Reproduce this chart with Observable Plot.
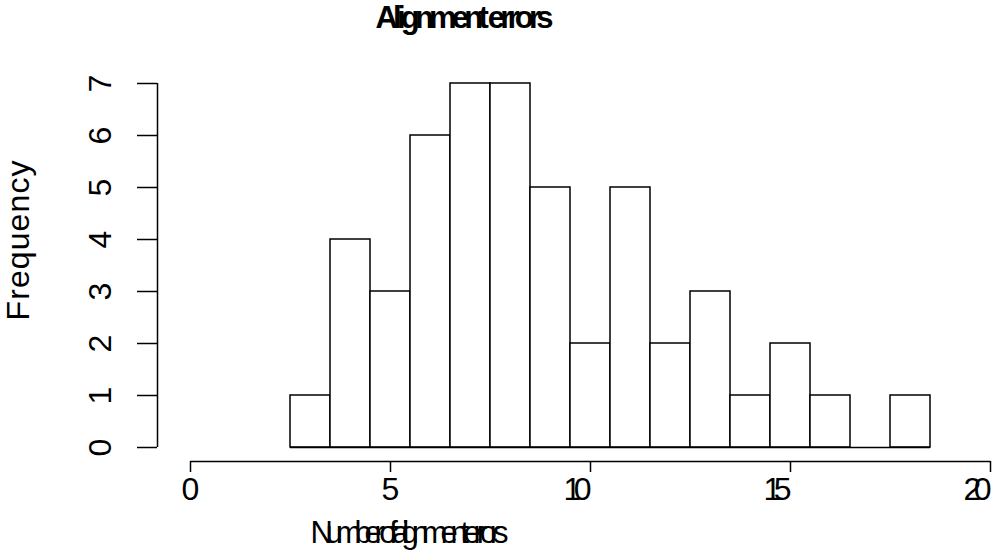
<!DOCTYPE html>
<html>
<head>
<meta charset="utf-8">
<script src="https://cdn.jsdelivr.net/npm/d3@7"></script>
<script src="https://cdn.jsdelivr.net/npm/@observablehq/plot@0.6"></script>
<style>
  html, body { margin: 0; padding: 0; background: #fff; }
</style>
</head>
<body>
<div id="chart"></div>
<script>
// ---- data ----
const breaks = [2.5, 3.5, 4.5, 5.5, 6.5, 7.5, 8.5, 9.5, 10.5, 11.5, 12.5, 13.5, 14.5, 15.5, 16.5, 17.5, 18.5];
const counts = [1, 4, 3, 6, 7, 7, 5, 2, 5, 2, 3, 1, 2, 1, 0, 1];
const xTicks = [0, 5, 10, 15, 20];
const xTickLabels = ["0", "5", "10", "15", "20"];
const yTicks = [0, 1, 2, 3, 4, 5, 6, 7];
const yTickLabels = ["0", "1", "2", "3", "4", "5", "6", "7"];
const titleText = "Alignment errors";
const xLabelText = "Number of alignment errors";
const yLabelText = "Frequency";

const bins = counts.map((c, i) => ({x1: breaks[i], x2: breaks[i + 1], count: c}));

const narrow = "'Liberation Sans Narrow', 'Arial Narrow', 'Liberation Sans', Arial, sans-serif";

const chart = Plot.plot({
  width: 992,
  height: 550,
  marginLeft: 190,
  marginRight: 2,
  marginTop: 83,
  marginBottom: 103,
  style: {fontFamily: "'Liberation Sans', Arial, sans-serif", fontSize: "32px", background: "#fff", color: "#000"},
  x: {domain: [0, 20], axis: null},
  y: {domain: [0, 7], axis: null},
  marks: [
    Plot.rect(bins, {x1: "x1", x2: "x2", y1: 0, y2: "count", fill: "white", stroke: "black", strokeWidth: 1.5}),
    Plot.ruleY(bins, {y: 0, x1: "x1", x2: "x2", stroke: "black", strokeWidth: 1.5}),
    // x axis
    Plot.ruleY([0], {x1: 0, x2: 20, dy: 14, stroke: "black", strokeWidth: 1.5}),
    Plot.axisX({
      ticks: xTicks, tickSize: 11, tickPadding: 5, dy: 14, label: null, fontSize: 32,
      strokeWidth: 1.5,
      tickFormat: d => xTickLabels[xTicks.indexOf(d)]
    }),
    // y axis
    Plot.ruleX([0], {y1: 0, y2: 7, dx: -33, stroke: "black", strokeWidth: 1.5}),
    Plot.axisY({
      ticks: yTicks, tickSize: 20, dx: -33, label: null, strokeWidth: 1.5,
      tickFormat: () => ""
    }),
    Plot.text(yTicks, {
      y: d => d, text: (d, i) => yTickLabels[i], frameAnchor: "left", dx: -80,
      rotate: -90, lineAnchor: "bottom", textAnchor: "middle", fontSize: 32
    }),
    // title & labels
    Plot.text([titleText], {
      text: d => d, frameAnchor: "top-left", dx: 185, dy: -56,
      lineAnchor: "bottom", textAnchor: "start", fontSize: 31, fontWeight: "bold", fontFamily: narrow
    }),
    Plot.text([xLabelText], {
      text: d => d, frameAnchor: "bottom-left", dx: 120, dy: 95,
      lineAnchor: "bottom", textAnchor: "start", fontSize: 31, fontFamily: narrow
    }),
    Plot.text([yLabelText], {
      text: d => d, frameAnchor: "left", dx: -162, dy: 55, rotate: -90,
      lineAnchor: "bottom", textAnchor: "start", fontSize: 32
    })
  ]
});

document.getElementById("chart").appendChild(chart);

// compressed glyph spacing as in the reference rendering
function squeeze(content, len) {
  chart.querySelectorAll("text").forEach(t => {
    if (t.textContent === content) {
      t.setAttribute("textLength", len);
      t.setAttribute("lengthAdjust", "spacing");
    }
  });
}
squeeze(titleText, 178);
squeeze(xLabelText, 198);
squeeze(yLabelText, 160);
chart.querySelectorAll('g[aria-label="x-axis tick label"] text').forEach(t => {
  if (t.textContent.length === 2) {
    t.setAttribute("textLength", 28);
    t.setAttribute("lengthAdjust", "spacing");
    t.setAttribute("text-anchor", "end");
    t.setAttribute("dx", "1");
  }
});
</script>
</body>
</html>
